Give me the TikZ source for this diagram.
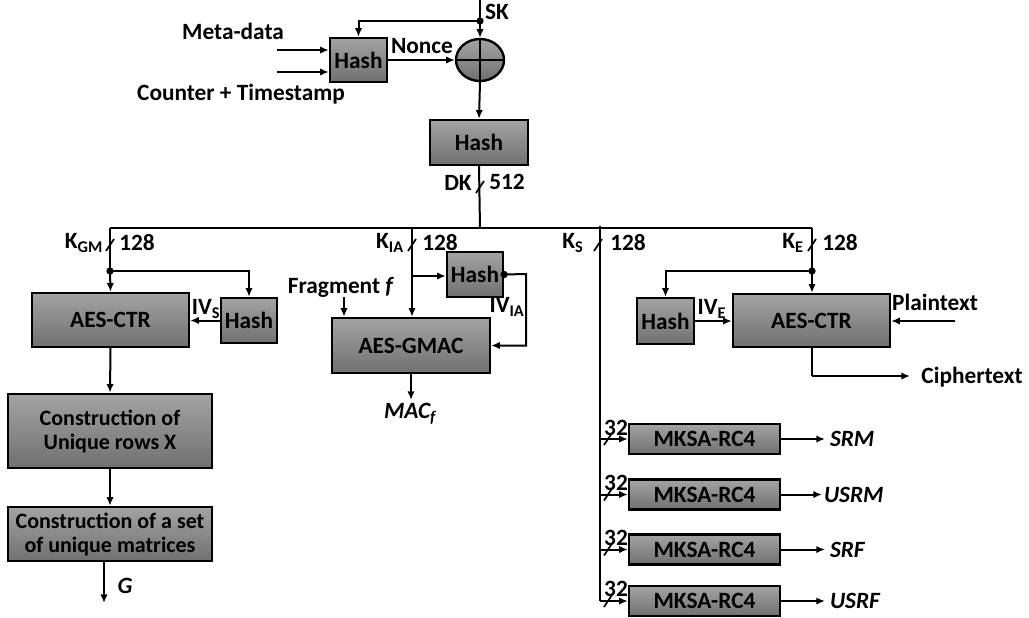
\documentclass[tikz,border=0pt]{standalone}
\usepackage{fontspec}
\setmainfont{Carlito}
\usetikzlibrary{arrows.meta,shapes.geometric,calc}
\begin{document}
\begin{tikzpicture}[x=0.75pt,y=-0.75pt,line width=1.5pt,
  >={Latex[length=6.5pt,width=5.5pt]},
  blk/.style={draw,line width=1.8pt,top color=black!36,bottom color=black!56,
    font=\bfseries\fontsize{17.5}{19}\selectfont,align=center,inner sep=0pt},
  lbl/.style={font=\bfseries\fontsize{17.5}{19}\selectfont,inner sep=0pt},
  ilbl/.style={font=\bfseries\itshape\fontsize{17.5}{19}\selectfont,inner sep=0pt},
  tickmark/.pic={\draw[line width=1.3pt] (-4,6)--(4,-6);},
  jdot/.style={fill,circle,inner sep=0pt,minimum size=5.5pt}]
\useasboundingbox (0,0) rectangle (1029,618);

% blocks
\node[blk,minimum width=42.75pt,minimum height=33pt] (hash1) at (358.5,60) {Hash};
\node[draw,line width=1.8pt,ellipse,top color=black!36,bottom color=black!56,minimum width=36pt,minimum height=31.5pt,inner sep=0pt] (xor) at (480,60) {};
\draw[line width=1.5pt] (xor.north)--(xor.south) (xor.west)--(xor.east);
\node[blk,minimum width=73.5pt,minimum height=33.75pt] (hash2) at (479,142.5) {Hash};
\node[blk,minimum width=117.75pt,minimum height=40.5pt] (aesl) at (110.5,320) {AES-CTR};
\node[blk,minimum width=42pt,minimum height=33.75pt] (hashs) at (249,320.5) {Hash};
\node[blk,minimum width=153pt,minimum height=55.5pt,font=\bfseries\fontsize{16.5}{18}\selectfont] (c1) at (110,431) {Construction of\\Unique rows X};
\node[blk,minimum width=153pt,minimum height=40.5pt,font=\bfseries\fontsize{16.5}{18}\selectfont] (c2) at (110,534) {Construction of a set\\of unique matrices};
\node[blk,minimum width=118.5pt,minimum height=41.25pt] (gmac) at (411,345.5) {AES-GMAC};
\node[blk,minimum width=42pt,minimum height=33.75pt] (hashia) at (475,274.5) {Hash};
\node[blk,minimum width=42.75pt,minimum height=34.5pt] (hashe) at (665.5,321) {Hash};
\node[blk,minimum width=117.75pt,minimum height=39.75pt] (aesr) at (811.5,320.5) {AES-CTR};
\node[blk,minimum width=113.25pt,minimum height=22.5pt] (mk1) at (704.5,439) {MKSA-RC4};
\node[blk,minimum width=113.25pt,minimum height=22.5pt] (mk2) at (704.5,494.5) {MKSA-RC4};
\node[blk,minimum width=113.25pt,minimum height=22.5pt] (mk3) at (704.5,549.5) {MKSA-RC4};
\node[blk,minimum width=113.25pt,minimum height=22.5pt] (mk4) at (704.5,601) {MKSA-RC4};

% labels
\node[lbl] (lmeta) at (233,31) {Meta-data};
\node[lbl] (lcount) at (241,94) {Counter + Timestamp};
\node[lbl] (lsk) at (497,12) {SK};
\node[lbl] (lnonce) at (422,46) {Nonce};
\node[lbl] (ldk) at (458,183) {DK};
\node[lbl] (l512) at (507,182) {512};
\node[lbl] (lkgm) at (84,243) {K\textsubscript{GM}};
\node[lbl] (l128a) at (137,243) {128};
\node[lbl] (lkia) at (390,243) {K\textsubscript{IA}};
\node[lbl] (l128b) at (440,243) {128};
\node[lbl] (lks) at (573,243) {K\textsubscript{S}};
\node[lbl] (l128c) at (628,243) {128};
\node[lbl] (lke) at (793,243) {K\textsubscript{E}};
\node[lbl] (l128d) at (840,243) {128};
\node[lbl] (livs) at (206,309) {IV\textsubscript{S}};
\node[lbl] (lfrag) at (341,287) {Fragment \textit{f}};
\node[lbl] (livia) at (507,307) {IV\textsubscript{IA}};
\node[lbl] (live) at (712,309) {IV\textsubscript{E}};
\node[lbl] (lplain) at (935,302) {Plaintext};
\node[lbl] (lcipher) at (972,377) {Ciphertext};
\node[ilbl] (lmac) at (410,414) {MAC\textsubscript{\textit{f}}};
\node[ilbl] (lg) at (125,586) {G};
\node[lbl,anchor=south] (n32a) at (616,437) {32};
\node[lbl,anchor=south] (n32b) at (616,492) {32};
\node[lbl,anchor=south] (n32c) at (616,547) {32};
\node[lbl,anchor=south] (n32d) at (616,598) {32};
\node[ilbl,anchor=west] (lsrm) at (829,439) {SRM};
\node[ilbl,anchor=west] (lusrm) at (823,494.5) {USRM};
\node[ilbl,anchor=west] (lsrf) at (829,549.5) {SRF};
\node[ilbl,anchor=west] (lusrf) at (829,601) {USRF};

% coordinates
\coordinate (sktop) at (480,0);
\coordinate (skd) at (480,21);
\coordinate (in1) at (277,50);
\coordinate (in2) at (277,72);
\coordinate (busm) at (480,228);
\coordinate (busl) at (110,228);
\coordinate (busia) at (412,228);
\coordinate (buss) at (600,226);
\coordinate (buse) at (812,228);
\coordinate (jgm) at (110,271);
\coordinate (jia) at (412,276);
\coordinate (je) at (812,271);
\coordinate (fragin) at (344,297);
\coordinate (iacorner) at (526,274);
\coordinate (gout) at (104,603);
\coordinate (gstart) at (104,561);
\coordinate (macout) at (411,400);
\coordinate (plainin) at (955,321);
\coordinate (ccorner) at (812,376);
\coordinate (cout) at (910,376);
\coordinate (ksend) at (600,601);

% top
\draw (sktop) -- (skd);
\draw[->] (skd) -- (xor.north);
\draw[->] (skd) -| (hash1.north);
\node[jdot] (dsk) at (skd) {};
\draw[->] (in1) -- (in1 -| hash1.west);
\draw[->] (in2) -- (in2 -| hash1.west);
\draw[->] (hash1.east) -- (xor.west);
\draw[->] (xor.south) -- (hash2.north);
\draw (hash2.south) -- (busm);
\pic at (480,187) {tickmark};
\draw (busl) -- (buse);

% K_GM branch
\draw (busl) -- (jgm);
\draw[->] (jgm) -- (aesl.north);
\draw[->] (jgm) -| (hashs.north);
\node[jdot] (dgm) at (jgm) {};
\pic at (110,245) {tickmark};
\draw[->] (hashs.west) -- (aesl.east |- hashs.west);
\draw[->] (aesl.south) -- (c1.north);
\draw[->] (c1.south) -- (c2.north);
\draw[->] (gstart) -- (gout);

% K_IA branch
\draw (busia) -- (jia);
\draw[->] (jia) -- (gmac.north -| jia);
\draw[->] (jia) -- (jia -| hashia.west);
\pic at (412,245) {tickmark};
\draw[->] (fragin) -- (fragin |- gmac.north);
\draw[->] (hashia.east) -- (iacorner) |- (gmac.east);
\node[jdot] (dia) at (hashia.east) {};
\draw[->] (gmac.south) -- (macout);

% K_S branch
\draw (buss) -- (ksend);
\pic at (598,245) {tickmark};
\foreach \m in {mk1,mk2,mk3,mk4}{
  \draw[->] (buss |- \m.west) -- (\m.west);
  \pic at ($(buss |- \m.west)+(8,0)$) {tickmark};
}
\draw[->] (mk1.east) -- (825,439);
\draw[->] (mk2.east) -- (822,494.5);
\draw[->] (mk3.east) -- (825,549.5);
\draw[->] (mk4.east) -- (825,601);

% K_E branch
\draw (buse) -- (je);
\draw[->] (je) -- (aesr.north -| je);
\draw[->] (je) -| (hashe.north);
\node[jdot] (de) at (je) {};
\pic at (812,245) {tickmark};
\draw[->] (hashe.east) -- (aesr.west |- hashe.east);
\draw[->] (plainin) -- (plainin -| aesr.east);
\draw (aesr.south -| je) -- (ccorner);
\draw[->] (ccorner) -- (cout);
\end{tikzpicture}
\end{document}
